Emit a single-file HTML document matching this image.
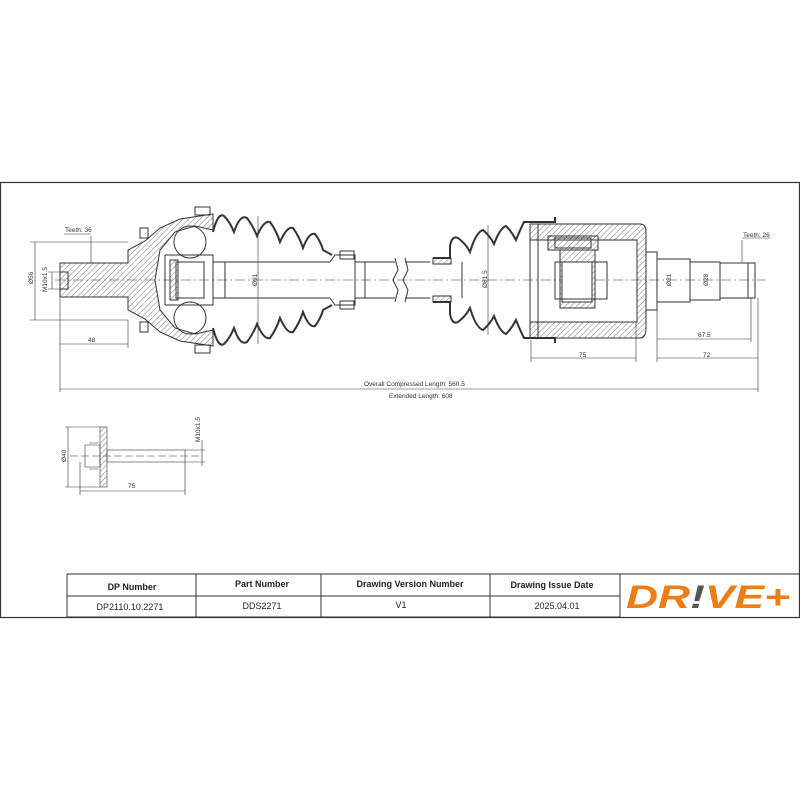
<!DOCTYPE html>
<html><head><meta charset="utf-8"><style>
html,body{margin:0;padding:0;background:#fff;}
svg{display:block;}
</style></head><body>
<svg width="800" height="800" viewBox="0 0 800 800" xmlns="http://www.w3.org/2000/svg" font-family="Liberation Sans, sans-serif">
<defs>
<pattern id="h" width="4" height="4" patternUnits="userSpaceOnUse" patternTransform="rotate(45)">
<line x1="0" y1="0" x2="0" y2="4" stroke="#555" stroke-width="0.8"/>
</pattern>
</defs>
<rect x="0.5" y="182.5" width="799" height="435" fill="none" stroke="#333" stroke-width="1.2"/>

<g stroke="#333" stroke-width="1" fill="none">
<line x1="55" y1="280" x2="765" y2="280" stroke-dasharray="10,3,2,3" stroke-width="0.6"/>

<path d="M60,263 H128 V250 L145,241 L160,228 L180,219 L213,214 V230 L195,226 L175,232 L160,250 L155,280 L160,310 L175,328 L195,334 L213,330 V346 L180,341 L160,332 L145,319 L128,310 V297 H60 Z" fill="url(#h)"/>
<rect x="60" y="272" width="8" height="17"/>
<rect x="140" y="228" width="8" height="10"/><rect x="140" y="322" width="8" height="10"/>
<rect x="195" y="207" width="15" height="8"/><rect x="195" y="345" width="15" height="8"/>
<circle cx="190" cy="242" r="16"/><circle cx="190" cy="318" r="16"/>
<rect x="165" y="255" width="48" height="50"/>
<rect x="170" y="260" width="8" height="40" fill="url(#h)"/>
<rect x="176" y="262" width="28" height="36"/>
<path d="M213,262 H330 M213,298 H330"/>
<line x1="225" y1="262" x2="225" y2="298"/>
<path d="M330,262 L335,255 H355 V305 H335 L330,298"/>
<rect x="340" y="251" width="14" height="8"/>
<rect x="340" y="301" width="14" height="8"/>
<path d="M355,262 H395 M355,298 H395 M405,262 H430 M405,298 H430"/>
<line x1="365" y1="262" x2="365" y2="298"/>
<path d="M395,258 L398,270 L393,280 L398,290 L395,302" /><path d="M405,258 L408,270 L403,280 L408,290 L405,302"/>
<path d="M213,232 Q218,212 224,216 Q230,222 234,232 Q240,214 247,218 Q253,226 257,236 Q264,220 270,222 Q276,230 280,242 Q287,226 293,228 Q299,236 303,248 Q309,232 315,234 Q321,242 323,250 L332,255" stroke-width="2"/>
<path d="M213,328 Q218,348 224,344 Q230,338 234,328 Q240,346 247,342 Q253,334 257,324 Q264,340 270,338 Q276,330 280,318 Q287,334 293,332 Q299,324 303,312 Q309,328 315,326 Q321,318 323,310 L332,305" stroke-width="2"/>
<line x1="258" y1="216" x2="258" y2="344" stroke-width="0.6"/>

<path d="M433,258 H450 V246 Q452,235 458,238 Q466,244 470,252 Q476,232 483,230 Q490,236 494,244 Q500,228 506,226 Q512,232 516,240 Q520,230 524,222 H555 V217" stroke-width="2"/>
<path d="M433,302 H450 V314 Q452,325 458,322 Q466,316 470,308 Q476,328 483,330 Q490,324 494,316 Q500,332 506,334 Q512,328 516,320 Q520,330 524,338 H555 V343" stroke-width="2"/>
<rect x="433" y="258" width="18" height="6" fill="url(#h)"/><rect x="433" y="296" width="18" height="6" fill="url(#h)"/>
<line x1="488" y1="225" x2="488" y2="335" stroke-width="0.6"/>
<line x1="462" y1="262" x2="462" y2="298"/>
<path d="M530,224 H640 Q646,224 646,232 V328 Q646,338 640,338 H530 V322 H637 V240 H530 Z" fill="url(#h)"/>
<rect x="530" y="224" width="8" height="114" fill="none"/>
<rect x="548" y="236" width="50" height="14" fill="url(#h)"/>
<rect x="555" y="238" width="36" height="10"/>
<path d="M560,250 H595 V308 H560 Z" fill="url(#h)"/>
<rect x="562" y="262" width="30" height="40" fill="#fff"/>
<rect x="555" y="262" width="52" height="37"/>
<rect x="646" y="252" width="11" height="58"/>
<rect x="657" y="259" width="33" height="43"/>
<rect x="690" y="262" width="30" height="38"/>
<rect x="720" y="263" width="35" height="35"/>
<line x1="748" y1="263" x2="748" y2="298"/>
</g>

<g stroke="#333" stroke-width="0.6" fill="none">
<path d="M60,298 V392 M758,298 V392 M60,389 H758"/>
<path d="M128,320 V348 M60,344 H128"/>
<path d="M30,242 H128 M30,320 H128 M35,242 V320"/>
<path d="M48,272 H60 M48,289 H60 M52,272 V289"/>
<path d="M91,236 V263 M64,234 H91"/>
<path d="M531,340 V362 M636,322 V362 M531,358 H636"/>
<path d="M657,310 V362 M751,298 V342 M657,339 H751 M657,358 H758"/>
<path d="M742,240 V262 M742,238 H770"/>
<rect x="100" y="427" width="7" height="60"/>
<path d="M85,445 H100 V467 H85 Z M89,443 H98 M89,469 H98"/>
<rect x="107" y="450" width="78" height="12"/>
<line x1="70" y1="456" x2="200" y2="456" stroke-dasharray="8,3"/>
<path d="M65,427 H100 M65,487 H100 M68,427 V487"/>
<path d="M80,462 V495 M185,462 V495 M80,491 H185"/>
<path d="M185,450 H205 M185,462 H205 M202,440 V466"/>
</g>
<rect x="100" y="427" width="7" height="60" fill="url(#h)"/>

<g font-size="6.5" fill="#333">
<text x="65" y="232">Teeth: 36</text>
<text x="88" y="342">48</text>
<text transform="translate(33,284) rotate(-90)">Ø56</text>
<text transform="translate(47,292) rotate(-90)">M10x1.5</text>
<text transform="translate(257,286) rotate(-90)">Ø91</text>
<text transform="translate(487,288) rotate(-90)">Ø81.5</text>
<text transform="translate(671,286) rotate(-90)">Ø31</text>
<text transform="translate(708,286) rotate(-90)">Ø28</text>
<text x="743" y="237">Teeth: 26</text>
<text x="698" y="337">67.5</text>
<text x="703" y="357">72</text>
<text x="579" y="357">75</text>
<text x="364" y="386">Overall  Compressed  Length: 560.5</text>
<text x="389" y="398">Extended  Length: 608</text>
<text transform="translate(66,462) rotate(-90)">Ø40</text>
<text transform="translate(200,442) rotate(-90)">M10x1.5</text>
<text x="128" y="488">75</text>
</g>

<g stroke="#333" stroke-width="1" fill="none">
<path d="M67,574 H620 M67,596 H620 M67,617 H620 M67,574 V617 M196,574 V617 M321,574 V617 M490,574 V617 M620,574 V617"/>
<path d="M620,574 H800"/>
</g>
<g font-size="9" fill="#222" text-anchor="middle">
<text x="132" y="590" font-weight="bold">DP Number</text>
<text x="262" y="587" font-weight="bold">Part Number</text>
<text x="410" y="587" font-weight="bold">Drawing Version Number</text>
<text x="552" y="588" font-weight="bold">Drawing Issue Date</text>
<text x="130" y="610">DP2110.10.2271</text>
<text x="262" y="609">DDS2271</text>
<text x="401" y="608">V1</text>
<text x="557" y="609">2025.04.01</text>
</g>
<text x="626" y="608" font-size="32" font-weight="bold" font-style="italic" fill="#f07c14" textLength="164" lengthAdjust="spacingAndGlyphs">DR<tspan fill="#555">!</tspan>VE+</text>
</svg>
</body></html>
